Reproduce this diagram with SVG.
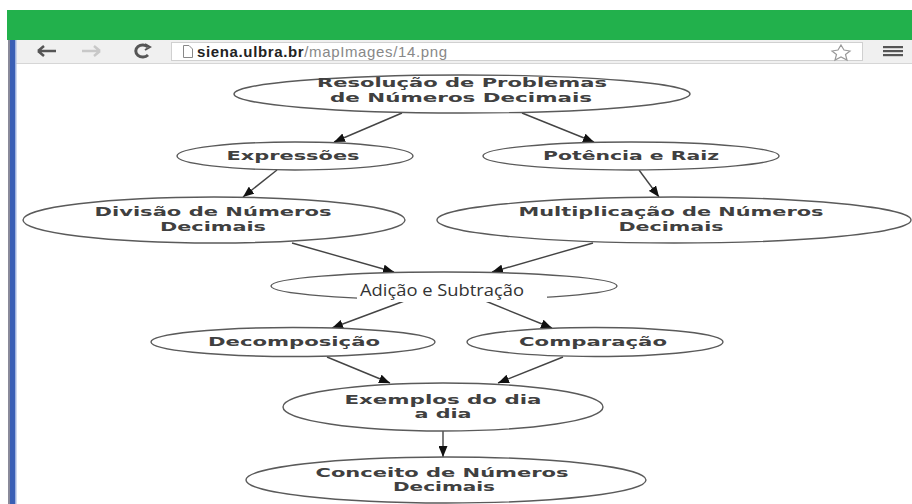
<svg xmlns="http://www.w3.org/2000/svg" width="912" height="504" viewBox="0 0 912 504">
<style>
.node ellipse{fill:#fff;stroke:#5a5a5a;stroke-width:1.4}
.node text{font-family:"DejaVu Sans",Verdana,sans-serif;font-weight:bold;font-size:12px;fill:#404040;text-anchor:middle}
.edges line{stroke:#444;stroke-width:1.4}
.url{font-family:"Liberation Sans",Arial,sans-serif;font-size:15px}
</style>
<defs>
<marker id="ah" markerUnits="userSpaceOnUse" markerWidth="12" markerHeight="9" refX="11" refY="4.5" orient="auto">
<path d="M0,0 L11,4.5 L0,9 z" fill="#111"/>
</marker>
</defs>
<rect x="0" y="0" width="912" height="504" fill="#fff"/>
<g id="browser">
<rect x="7" y="10" width="905" height="30" fill="#22b14c"/>
<rect x="9" y="40" width="903" height="24" fill="#f0f0f0"/>
<line x1="9" y1="63.5" x2="912" y2="63.5" stroke="#d6d6d6"/>
<rect x="8" y="40" width="2" height="464" fill="#8a8a9a"/>
<rect x="10" y="40" width="5" height="464" fill="#3a5fb5"/>
<rect x="15" y="40" width="1.5" height="464" fill="#9fb3e0"/>
<rect x="171.5" y="42.5" width="691" height="18" fill="#fff" stroke="#d0d0d0"/>
<path d="M38,51 H56 M38,51 L44,46 M38,51 L44,56" stroke="#555" stroke-width="2.5" fill="none"/>
<path d="M82,51 H100 M100,51 L94,46 M100,51 L94,56" stroke="#c8c8c8" stroke-width="2.5" fill="none"/>
<path d="M148,47 A7,6 0 1 0 148,55" stroke="#555" stroke-width="3" fill="none"/>
<path d="M145,44 L150,47 L145,50" stroke="#555" stroke-width="2" fill="none"/>
<path d="M183.5,45.5 H189 L192.5,49 V57.5 H183.5 Z" fill="#fff" stroke="#888"/>
<text class="url" x="197" y="57" textLength="250"><tspan font-weight="bold" fill="#222">siena.ulbra.br</tspan><tspan fill="#888">/mapImages/14.png</tspan></text>
<path d="M841,45 L844,50 L850,51 L845.5,54.5 L847,60 L841,57 L835,60 L836.5,54.5 L832,51 L838,50 Z" fill="none" stroke="#999" stroke-width="1.2"/>
<rect x="883" y="46" width="20" height="2.2" fill="#555"/>
<rect x="883" y="50" width="20" height="2.2" fill="#555"/>
<rect x="883" y="54" width="20" height="2.2" fill="#555"/>
</g>
<g class="edges" id="edges">
<line x1="402" y1="113" x2="334" y2="142" marker-end="url(#ah)"/>
<line x1="522" y1="113" x2="594" y2="142" marker-end="url(#ah)"/>
<line x1="277" y1="170" x2="243" y2="197" marker-end="url(#ah)"/>
<line x1="639" y1="170" x2="659" y2="197" marker-end="url(#ah)"/>
<line x1="292" y1="243" x2="394" y2="272" marker-end="url(#ah)"/>
<line x1="593" y1="243" x2="492" y2="272" marker-end="url(#ah)"/>
<line x1="407" y1="300" x2="332" y2="328" marker-end="url(#ah)"/>
<line x1="483" y1="300" x2="552" y2="328" marker-end="url(#ah)"/>
<line x1="327" y1="357" x2="390" y2="383" marker-end="url(#ah)"/>
<line x1="563" y1="357" x2="498" y2="383" marker-end="url(#ah)"/>
<line x1="443" y1="431" x2="443" y2="457" marker-end="url(#ah)"/>
</g>
<g class="node" id="n-resolucao">
<ellipse cx="462" cy="94" rx="228" ry="19"/>
<text x="462" y="87" textLength="290" lengthAdjust="spacingAndGlyphs">Resolução de Problemas</text>
<text x="461" y="102" textLength="262" lengthAdjust="spacingAndGlyphs">de Números Decimais</text>
</g>
<g class="node" id="n-expressoes">
<ellipse cx="295" cy="156" rx="118" ry="14"/>
<text x="293" y="160" textLength="133" lengthAdjust="spacingAndGlyphs">Expressões</text>
</g>
<g class="node" id="n-potencia">
<ellipse cx="631" cy="156" rx="148" ry="14"/>
<text x="631" y="160" textLength="176" lengthAdjust="spacingAndGlyphs">Potência e Raiz</text>
</g>
<g class="node" id="n-divisao">
<ellipse cx="214" cy="220" rx="191" ry="23"/>
<text x="213" y="216" textLength="237" lengthAdjust="spacingAndGlyphs">Divisão de Números</text>
<text x="213" y="231" textLength="106" lengthAdjust="spacingAndGlyphs">Decimais</text>
</g>
<g class="node" id="n-multiplicacao">
<ellipse cx="674" cy="220" rx="237" ry="23"/>
<text x="671" y="216" textLength="305" lengthAdjust="spacingAndGlyphs">Multiplicação de Números</text>
<text x="671" y="231" textLength="105" lengthAdjust="spacingAndGlyphs">Decimais</text>
</g>
<g id="n-adicao">
<ellipse cx="444" cy="286" rx="173" ry="14" fill="#fff" stroke="#5a5a5a" stroke-width="1.4"/>
<rect x="357" y="285" width="190" height="17" fill="#fff"/>
<text x="360" y="296" font-family="'Open Sans','Noto Sans',sans-serif" font-size="16.5" fill="#333" textLength="164" lengthAdjust="spacingAndGlyphs">Adição e Subtração</text>
</g>
<g class="node" id="n-decomposicao">
<ellipse cx="293" cy="342" rx="142" ry="14.5"/>
<text x="294" y="346" textLength="172" lengthAdjust="spacingAndGlyphs">Decomposição</text>
</g>
<g class="node" id="n-comparacao">
<ellipse cx="595" cy="342" rx="128" ry="14.5"/>
<text x="593" y="346" textLength="148" lengthAdjust="spacingAndGlyphs">Comparação</text>
</g>
<g class="node" id="n-exemplos">
<ellipse cx="443" cy="407" rx="160" ry="24"/>
<text x="443" y="404" textLength="197" lengthAdjust="spacingAndGlyphs">Exemplos do dia</text>
<text x="443" y="418" textLength="57" lengthAdjust="spacingAndGlyphs">a dia</text>
</g>
<g class="node" id="n-conceito">
<ellipse cx="446" cy="480" rx="200" ry="23"/>
<text x="442" y="477" textLength="253" lengthAdjust="spacingAndGlyphs">Conceito de Números</text>
<text x="444" y="491" textLength="102" lengthAdjust="spacingAndGlyphs">Decimais</text>
</g>
</svg>
